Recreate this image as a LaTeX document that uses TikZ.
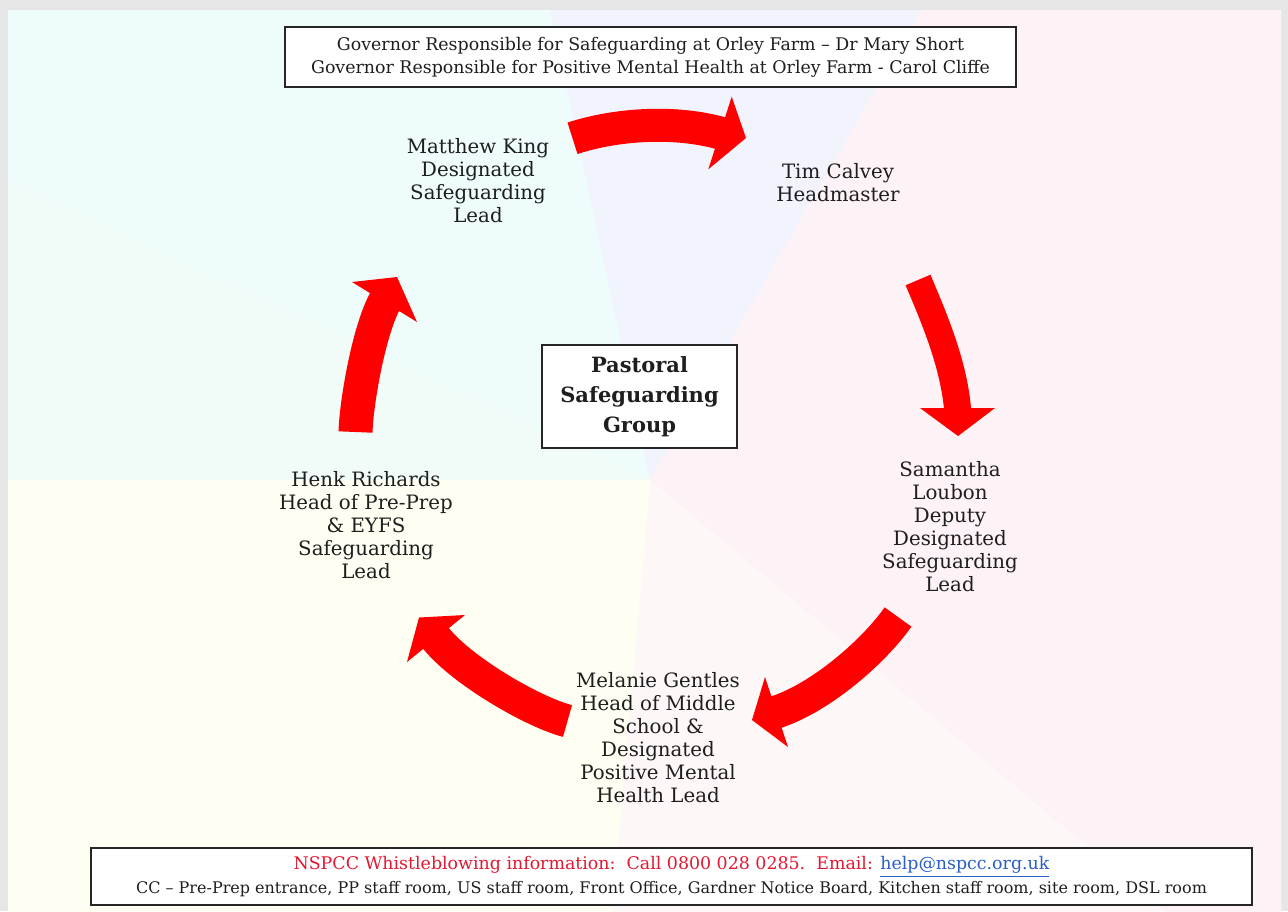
\documentclass[tikz,border=0pt]{standalone}
\usepackage{fontspec}
\setmainfont{DejaVu Serif}
\usetikzlibrary{calc}
\definecolor{arrred}{RGB}{255,0,0}
\definecolor{framegray}{RGB}{230,230,230}
\definecolor{mint}{RGB}{241,251,247}
\definecolor{cyanbg}{RGB}{238,252,252}
\definecolor{lavbg}{RGB}{241,243,253}
\definecolor{pinkbg}{RGB}{253,242,245}
\definecolor{lpinkbg}{RGB}{254,247,247}
\definecolor{yellbg}{RGB}{254,254,243}
\definecolor{txt}{RGB}{30,30,30}
\definecolor{nsred}{RGB}{225,25,50}
\definecolor{linkblue}{RGB}{40,95,200}
\tikzset{
  shaft/.style={draw=arrred, line width=16.5pt, line cap=butt, shorten >=-1.5pt},
  head/.style={fill=arrred},
  lbl/.style={align=center, text=txt, font=\fontsize{9.9}{11.5}\selectfont, inner sep=0pt},
  infobox/.style={draw=black!85, line width=0.75pt, fill=white, align=center, inner sep=0pt, text=txt}
}
\begin{document}
\begin{tikzpicture}[x=0.5pt,y=-0.5pt]
\useasboundingbox (0,0) rectangle (1288,911);
\fill[framegray] (0,0) rectangle (1288,911);
\begin{scope}
  \clip (8,10) rectangle (1281,911);
  \fill[white] (8,10) rectangle (1281,911);
  \coordinate (O) at (650,480);
  \fill[mint]   (O) -- ($(O)+(180:1500)$) -- ($(O)+(205:1500)$) -- cycle;
  \fill[cyanbg] (O) -- ($(O)+(205:1500)$) -- ($(O)+(258:1500)$) -- cycle;
  \fill[lavbg]  (O) -- ($(O)+(258:1500)$) -- ($(O)+(300:1500)$) -- cycle;
  \fill[pinkbg] (O) -- ($(O)+(300:1500)$) -- ($(O)+(350:1500)$) -- ($(O)+(40:1500)$) -- cycle;
  \fill[lpinkbg](O) -- ($(O)+(40:1500)$) -- ($(O)+(95:1500)$) -- cycle;
  \fill[yellbg] (O) -- ($(O)+(95:1500)$) -- ($(O)+(137:1500)$) -- ($(O)+(180:1500)$) -- cycle;
\end{scope}

% boxes
\node[infobox, minimum width=365.5pt, minimum height=30pt, font=\fontsize{8.7}{11.5}\selectfont] (gov) at (650.5,57)
  {Governor Responsible for Safeguarding at Orley Farm – Dr Mary Short\\
   Governor Responsible for Positive Mental Health at Orley Farm - Carol Cliffe};
\node[infobox, minimum width=97.5pt, minimum height=51.5pt, font=\bfseries\fontsize{10.5}{15}\selectfont] (psg) at (639.5,396.5)
  {Pastoral\\Safeguarding\\Group};
\node[infobox, minimum width=580.5pt, minimum height=28.5pt, font=\fontsize{8}{12}\selectfont] (nspcc) at (671.5,876.5)
  {{\color{nsred}\fontsize{8.7}{12}\selectfont NSPCC Whistleblowing information:\ \ Call 0800 028 0285.\ \ Email: {\color{linkblue}\underline{help@nspcc.org.uk}}}\\
   CC – Pre-Prep entrance, PP staff room, US staff room, Front Office, Gardner Notice Board, Kitchen staff room, site room, DSL room};

% labels
\node[lbl] (mk) at (478,181) {Matthew King\\Designated\\Safeguarding\\Lead};
\node[lbl] (tc) at (838,183) {Tim Calvey\\Headmaster};
\node[lbl] (sl) at (950,527) {Samantha\\Loubon\\Deputy\\Designated\\Safeguarding\\Lead};
\node[lbl] (mg) at (658,738) {Melanie Gentles\\Head of Middle\\School \&\\Designated\\Positive Mental\\Health Lead};
\node[lbl] (hr) at (366,525) {Henk Richards\\Head of Pre-Prep\\\& EYFS\\Safeguarding\\Lead};

% arrow 1: Matthew King -> Tim Calvey
\coordinate (a1t) at (572.5,138.3);
\coordinate (a1c1) at (616,124);
\coordinate (a1c2) at (676,120);
\coordinate (a1h) at (720,133);
\coordinate (a1p) at (746,138);
\coordinate (a1u) at (731.7,96.7);
\coordinate (a1l) at (708.3,169.3);
\draw[shaft] (a1t) .. controls (a1c1) and (a1c2) .. (a1h);
\fill[head] (a1u) -- (a1p) -- (a1l) -- cycle;

% arrow 2: Tim Calvey -> Samantha Loubon
\coordinate (a2t) at (918,280);
\coordinate (a2c1) at (935,320);
\coordinate (a2c2) at (954,365);
\coordinate (a2h) at (957.5,408);
\coordinate (a2p) at (958,436);
\coordinate (a2u) at (920,408);
\coordinate (a2l) at (995,408);
\draw[shaft, line width=13.5pt] (a2t) .. controls (a2c1) and (a2c2) .. (a2h);
\fill[head] (a2u) -- (a2p) -- (a2l) -- cycle;

% arrow 3: Samantha Loubon -> Melanie Gentles
\coordinate (a3t) at (898,617);
\coordinate (a3c1) at (872,654);
\coordinate (a3c2) at (817,700);
\coordinate (a3h) at (776.5,712);
\coordinate (a3p) at (752,720);
\coordinate (a3u) at (765,677);
\coordinate (a3l) at (788,747);
\draw[shaft] (a3t) .. controls (a3c1) and (a3c2) .. (a3h);
\fill[head] (a3u) -- (a3p) -- (a3l) -- cycle;

% arrow 4: Melanie Gentles -> Henk Richards
\coordinate (a4t) at (567.5,721);
\coordinate (a4c1) at (530,711);
\coordinate (a4c2) at (458,668);
\coordinate (a4h) at (436,638.5);
\coordinate (a4p) at (419,617.5);
\coordinate (a4u) at (465,615);
\coordinate (a4l) at (407,662);
\draw[shaft] (a4t) .. controls (a4c1) and (a4c2) .. (a4h);
\fill[head] (a4u) -- (a4p) -- (a4l) -- cycle;

% arrow 5: Henk Richards -> Matthew King
\coordinate (a5t) at (355.5,432);
\coordinate (a5c1) at (356.5,400);
\coordinate (a5c2) at (370,326);
\coordinate (a5h) at (384.5,302);
\coordinate (a5p) at (397,277);
\coordinate (a5u) at (352,282);
\coordinate (a5l) at (417,322);
\draw[shaft, line width=17pt] (a5t) .. controls (a5c1) and (a5c2) .. (a5h);
\fill[head] (a5u) -- (a5p) -- (a5l) -- cycle;
\end{tikzpicture}
\end{document}
